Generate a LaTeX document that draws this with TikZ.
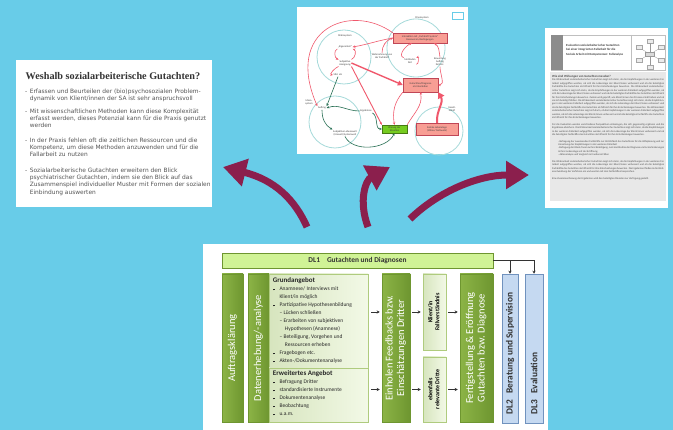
\documentclass[tikz,border=0pt]{standalone}
\usepackage{fontspec}
\setmainfont{Carlito}
\newfontfamily\titlefont{Liberation Serif}
\newfontfamily\bodyfont{DejaVu Sans}
\usetikzlibrary{arrows.meta,calc}

\definecolor{skyblue}{RGB}{104,204,232}
\definecolor{bendred}{RGB}{139,31,77}
\definecolor{colgreen}{RGB}{140,180,70}
\definecolor{colgreendark}{RGB}{110,150,48}
\definecolor{palegreen}{RGB}{234,245,214}
\definecolor{barlime}{RGB}{208,243,150}
\definecolor{dlblue}{RGB}{197,217,241}
\definecolor{dlbluedark}{RGB}{112,146,190}
\definecolor{ringteal}{RGB}{165,218,218}
\definecolor{flowred}{RGB}{240,88,108}
\definecolor{boxsalmon}{RGB}{248,158,148}
\definecolor{flowgreen}{RGB}{38,110,82}
\definecolor{limegreen}{RGB}{118,204,32}
\definecolor{textgray}{RGB}{85,85,85}

\newcommand{\sq}{\rule[0.5pt]{1.6pt}{1.6pt}\hspace{5pt}}
\newcommand{\evaltxt}{Die Wirksamkeit sozialarbeiterischer Gutachten zeigt sich darin, ob die Empfehlungen in der weiteren Fallarbeit aufgegriffen werden, ob sich die Lebenslage der Klient/innen verbessert und ob die beteiligten Fachkräfte das Gutachten als hilfreich für ihre Entscheidungen bewerten. }

\tikzset{
  bullettxt/.style={anchor=north west, inner sep=0pt, align=left, text=textgray,
    font=\bodyfont\fontsize{5.9}{7.3}\selectfont},
  sysring/.style={circle, draw=ringteal, line width=0.8pt, inner sep=0pt},
  tinylab/.style={inner sep=0.6pt, align=center, text=black!75, font=\fontsize{2.6}{3.1}\selectfont},
  redbox/.style={tinylab, fill=boxsalmon, draw=flowred!80!black, line width=0.4pt},
  greenbox/.style={tinylab, fill=limegreen, draw=limegreen!60!black, line width=0.4pt},
  redflow/.style={draw=flowred, line width=0.6pt, -{Stealth[length=2.6pt,width=2.4pt]}},
  greenflow/.style={draw=flowgreen, line width=0.6pt, -{Stealth[length=2.6pt,width=2.4pt]}},
  bendarrow/.style={draw=bendred, line width=7pt, -{Triangle[width=27pt,length=23pt]}},
  stepcol/.style={draw=colgreendark, line width=0.5pt, left color=colgreen, right color=colgreendark,
    inner sep=0pt, text=white, font=\fontsize{10.5}{11.5}\selectfont},
  lightbox/.style={draw=colgreen!70!white, line width=0.5pt, left color=colgreen!35!white,
    right color=palegreen!60!white, inner sep=0pt},
  dlbar/.style={draw=colgreendark, line width=0.5pt, fill=barlime, inner sep=0pt,
    font=\bfseries\fontsize{7.4}{8}\selectfont, text=black!80},
  dlcol/.style={draw=dlbluedark, line width=0.5pt, fill=dlblue, inner sep=0pt},
  flow/.style={draw=black!80, line width=0.7pt, -{Stealth[length=3pt,width=3pt]}},
}

\begin{document}
\begin{tikzpicture}[x=1pt,y=-1pt]
  \useasboundingbox (0,0) rectangle (673,430);
  \fill[skyblue] (0,0) rectangle (673,430);

% slide left: Weshalb sozialarbeiterische Gutachten?
  \fill[white] (16,60) rectangle (212,207);
  \node[font=\titlefont\bfseries\fontsize{10.2}{11}\selectfont, text=black!80] (titel) at (113,76)
    {Weshalb sozialarbeiterische Gutachten?};
  \node[bullettxt] (pkt1) at (25,88) {\begin{tabular}{@{}l@{\hspace{2.5pt}}l@{}}
    -& Erfassen und Beurteilen der (bio)psychosozialen Problem-\\
     & dynamik von Klient/innen der SA ist sehr anspruchsvoll\end{tabular}};
  \node[bullettxt] (pkt2) at (25,108) {\begin{tabular}{@{}l@{\hspace{2.5pt}}l@{}}
    -& Mit wissenschaftlichen Methoden kann diese Komplexität\\
     & erfasst werden, dieses Potenzial kann für die Praxis genutzt\\
     & werden\end{tabular}};
  \node[bullettxt] (pkt3) at (25,137) {\begin{tabular}{@{}l@{\hspace{2.5pt}}l@{}}
    -& In der Praxis fehlen oft die zeitlichen Ressourcen und die\\
     & Kompetenz, um diese Methoden anzuwenden und für die\\
     & Fallarbeit zu nutzen\end{tabular}};
  \node[bullettxt] (pkt4) at (25,167) {\begin{tabular}{@{}l@{\hspace{2.5pt}}l@{}}
    -& Sozialarbeiterische Gutachten erweitern den Blick\\
     & psychiatrischer Gutachten, indem sie den Blick auf das\\
     & Zusammenspiel individueller Muster mit Formen der sozialen\\
     & Einbindung auswerten\end{tabular}};

% slide top: Systemmodell
  \fill[white] (297,7) rectangle (468,154);
  \draw[skyblue, line width=0.8pt] (452,12) rectangle (463,19);
  \node[sysring, minimum size=54pt] (mikro) at (344,57) {};
  \node[sysring, minimum size=58pt] (praxis) at (416,48) {};
  \node[sysring, minimum size=52pt] (meso) at (335,122) {};
  \node[sysring, minimum size=48pt] (gesell) at (439,131) {};

  % labels
  \node[tinylab] (mikrolab) at (345,36) {Mikrosystem};
  \node[tinylab] (praxislab) at (422,18) {Praxissystem};
  \node[tinylab] (mesolab) at (309,102) {Meso-\\system};
  \node[tinylab] (gesellab) at (452,109) {Gesell-\\schaft};
  \node[tinylab] (eigen) at (345,47) {„Eigenanteil“};
  \node[tinylab] (aneig) at (345,63) {Subjektive\\Aneignung};
  \node[tinylab] (stbl) at (338,75) {Stbl. etc};
  \node[tinylab] (wahrn) at (382,56) {Wahrnehmung von\\der Fachkraft};
  \node[tinylab] (method) at (410,61) {Methoden\\Zeit};
  \node[tinylab] (bewert) at (440,62) {Bewertung\\Auftrag\\Zeit etc.};
  \node[tinylab] (auftr) at (322,108) {Auftrag};
  \node[tinylab] (ergeb) at (366,111) {Ergebnisse};
  \node[tinylab] (lebensw) at (345,133) {Subjektive Lebenswelt\\(Umwelt) Systemwelt};

  % boxes
  \node[redbox, minimum width=54pt, minimum height=10pt] (pbox) at (420,38)
    {Interaktion mit „Fachkraft System“\\Ressourcen, Bedingungen};
  \node[redbox, minimum width=35pt, minimum height=14pt] (gbox) at (420.5,85)
    {Gutachten/Diagnose\\als Interaktion};
  \node[redbox, minimum width=42pt, minimum height=12pt] (lage) at (437,129)
    {Soziale Lebenslage\\(Milieu/ Netzwerk)};
  \node[greenbox, minimum width=25pt, minimum height=8pt] (klaer) at (394.5,129)
    {Klärung der\\Situation};

  % red flows
  \draw[redflow] (pbox.north west) .. controls (350,2) and (284,30) .. (auftr.north west);
  \draw[redflow] (pbox.west) to[out=190,in=10] (eigen.east);
  \draw[redflow] (eigen.south west) to[out=200,in=160] (aneig.north west);
  \draw[redflow] (aneig.north east) to[out=20,in=-20] (eigen.south east);
  \draw[redflow] (aneig.south west) to[out=200,in=170] (stbl.west);
  \draw[redflow] (method.north west) to[out=160,in=200] ($(pbox.south)+(-8,0)$);
  \draw[redflow] (method.south east) to[out=-20,in=20] (method.north east);
  \draw[redflow] (bewert.north) to[out=100,in=-30] ($(pbox.south)+(14,0)$);
  \draw[redflow] (bewert.south) to[out=-90,in=0] (gbox.east);
  \draw[redflow] (wahrn.north) to[out=90,in=200] (pbox.west);
  \draw[redflow, line width=1.4pt, -{Triangle[length=5pt,width=5pt]}] (aneig.east) -- (gbox.west);
  \draw[redflow, line width=0.9pt] (aneig.south east) -- (klaer.north west);
  \draw[redflow] (gbox.south west) to[out=230,in=100] (klaer.north);
  \draw[redflow] (klaer.north east) to[out=60,in=280] (gbox.south);
  \draw[redflow, line width=2pt, -{Triangle[length=6pt,width=7pt]}] (lage.north) to[out=95,in=-60] (gbox.south east);

  % green flows
  \draw[greenflow] (stbl.south) -- (auftr.north east);
  \draw[greenflow] (ergeb.west) to[out=180,in=20] (auftr.east);
  \draw[greenflow] (auftr.south) to[out=-90,in=150] (lebensw.north west);
  \draw[greenflow] (lebensw.south) .. controls (352,152) and (386,150) .. (klaer.south);
  \draw[greenflow] (ergeb.south east) to[out=-30,in=180] (klaer.west);

% slide right: Evaluation
  \fill[white] (545,28) rectangle (668,208);
  \draw[black!25, line width=0.3pt] (551,35) rectangle (665,70);
  \fill[black!45] (551,35) rectangle (563,70);
  \node[anchor=north west, inner sep=0pt, align=left, text=black!75,
    font=\bfseries\fontsize{3.1}{4.6}\selectfont] (evaltitel) at (566,44)
    {Evaluation sozialarbeiterischer Gutachten\\bei einer integrierten Fallarbeit für die\\Soziale Arbeit mit Kompetenzen: Fallanalyse};
  \draw[black!25, line width=0.3pt] (631,35) -- (631,70);
  \node[draw=black!40, fill=black!15, minimum width=9pt, minimum height=4pt, inner sep=0pt] (mini) at (650,54) {};
  \foreach \a [count=\i] in {90,150,210,270,330,30} {
    \node[draw=black!35, fill=black!8, minimum width=6pt, minimum height=4pt, inner sep=0pt]
      (mini\i) at ($(mini)+(\a:13)$) {};
    \draw[black!40, line width=0.3pt] (mini) -- (mini\i);
  }
  \fill[black!9] (550,72) rectangle (666,201);
  \node[anchor=north west, inner sep=0pt, text width=112pt, align=justify, text=black!70,
    font=\fontsize{2.6}{3.45}\selectfont] (evaltext) at (552,75) {%
    {\bfseries\fontsize{3.1}{4}\selectfont Wie sind Wirkungen von Gutachten messbar?\par}
    \evaltxt\evaltxt Zudem wird geprüft, wie Klient/innen den Prozess erlebt haben und ob sie sich beteiligt fühlten. \evaltxt\evaltxt\par\smallskip
    Für die Evaluation werden verschiedene Perspektiven einbezogen, die sich gegenseitig ergänzen und die Ergebnisse absichern. \evaltxt\par\smallskip
    \leftskip=6pt
    - Befragung der zuweisenden Fachkräfte zur Nützlichkeit des Gutachtens für die Hilfeplanung und zur Umsetzung der Empfehlungen in der weiteren Fallarbeit\par
    - Befragung der Klient/innen zu ihrer Beteiligung, zum Verständnis der Diagnose und zu Veränderungen in ihrer Lebenslage seit der Eröffnung\par
    - Aktenanalyse und Vergleich mit anderen Fällen\par\smallskip
    \leftskip=0pt
    \evaltxt Die Ergebnisse fließen in die Weiterentwicklung der Verfahren ein und werden mit den Fachkräften besprochen.\par\smallskip
    Eine Zusammenfassung der Ergebnisse wird den beteiligten Diensten zur Verfügung gestellt.\par};

% slide bottom: Ablauf Gutachten
  \fill[white] (203,244) rectangle (548,430);
  \node[dlbar, minimum width=271pt, minimum height=15pt] (dlone) at (357.5,260.5)
    {DL1\hspace{7pt}Gutachten und Diagnosen};
  \node[stepcol, minimum width=21pt, minimum height=148pt] (auftrag) at (232.5,348)
    {\rotatebox{90}{Auftragsklärung}};
  \node[stepcol, minimum width=21pt, minimum height=148pt] (daten) at (258.5,348)
    {\rotatebox{90}{Datenerhebung/-analyse}};
  \node[lightbox, minimum width=99pt, minimum height=94pt] (grund) at (318.5,321) {};
  \node[lightbox, minimum width=99pt, minimum height=54pt] (erweit) at (318.5,395) {};
  \node[stepcol, minimum width=28pt, minimum height=148pt] (einholen) at (396,348)
    {\rotatebox{90}{\begin{tabular}{@{}c@{}}Einholen Feedbacks bzw.\\Einschätzungen Dritter\end{tabular}}};
  \node[lightbox, minimum width=23pt, minimum height=76pt, font=\bfseries\fontsize{6}{7}\selectfont] (klient) at (434.5,312)
    {\rotatebox{90}{\begin{tabular}{@{}c@{}}Klient/in\\Fallverständnis\end{tabular}}};
  \node[lightbox, minimum width=23pt, minimum height=65pt, font=\bfseries\fontsize{6}{7}\selectfont] (dritte) at (434.5,389.5)
    {\rotatebox{90}{\begin{tabular}{@{}c@{}}ebenfalls\\relevante Dritte\end{tabular}}};
  \node[stepcol, minimum width=33pt, minimum height=148pt] (fertig) at (476.5,348)
    {\rotatebox{90}{\begin{tabular}{@{}c@{}}Fertigstellung \& Eröffnung\\Gutachten bzw. Diagnose\end{tabular}}};
  \node[dlcol, minimum width=16pt, minimum height=149pt] (dltwo) at (510,348.5) {};
  \node[dlcol, minimum width=18pt, minimum height=149pt] (dlthree) at (534,348.5) {};
  \node[rotate=90, anchor=west, inner sep=0pt, font=\bfseries\fontsize{9.4}{10}\selectfont, text=black!80]
    (dltwotxt) at ($(dltwo.south)+(0,-9)$) {DL2\hspace{6pt}Beratung und Supervision};
  \node[rotate=90, anchor=west, inner sep=0pt, font=\bfseries\fontsize{9.4}{10}\selectfont, text=black!80]
    (dlthreetxt) at ($(dlthree.south)+(0,-9)$) {DL3\hspace{6pt}Evaluation};

  % Angebote
  \node[anchor=north west, inner sep=0pt, align=left, text=black!85,
    font=\fontsize{5.5}{8}\selectfont] (grundtxt) at ($(grund.north west)+(4,4)$) {%
    {\bfseries\fontsize{7}{8}\selectfont Grundangebot}\\
    \sq Anamnese/ Interviews mit\\
    \hspace*{6.6pt}Klient/in möglich\\
    \sq Partizipative Hypothesenbildung\\
    \hspace*{6.6pt}-- Lücken schließen\\
    \hspace*{6.6pt}-- Erarbeiten von subjektiven\\
    \hspace*{12pt}Hypothesen (Anamnese)\\
    \hspace*{6.6pt}-- Beteiligung, Vorgehen und\\
    \hspace*{12pt}Ressourcen erheben\\
    \sq Fragebogen etc.\\
    \sq Akten-/Dokumentenanalyse};
  \node[anchor=north west, inner sep=0pt, align=left, text=black!85,
    font=\fontsize{5.5}{8}\selectfont] (erweittxt) at ($(erweit.north west)+(4,3)$) {%
    {\bfseries\fontsize{7}{8}\selectfont Erweitertes Angebot}\\
    \sq Befragung Dritter\\
    \sq standardisierte Instrumente\\
    \sq Dokumentenanalyse\\
    \sq Beobachtung\\
    \sq u.a.m.};

  % Ablauf
  \draw[flow, shorten <=3pt, shorten >=2pt] (grund.east |- klient) -- (einholen.west |- klient);
  \draw[flow, shorten <=3pt, shorten >=2pt] (erweit.east |- dritte) -- (einholen.west |- dritte);
  \draw[flow, shorten <=2pt, shorten >=2pt] (einholen.east |- klient) -- (klient.west);
  \draw[flow, shorten <=2pt, shorten >=2pt] (einholen.east |- dritte) -- (dritte.west);
  \draw[flow, shorten <=2pt, shorten >=2pt] (klient.east) -- (fertig.west |- klient);
  \draw[flow, shorten <=2pt, shorten >=2pt] (dritte.east) -- (fertig.west |- dritte);
  \draw[flow] (dlone.east) -| (dltwo.north);
  \draw[flow] (dlone.east) -| (dlthree.north);

% big arrows
  \coordinate (links0) at (307,227);
  \coordinate (links1) at (223,167);
  \coordinate (mitte0) at (368,227);
  \coordinate (mitte1) at (390,167);
  \coordinate (rechts0) at (410,219);
  \coordinate (rechts1) at (529,175);
  \draw[bendarrow] (links0) .. controls (295,200) and (275,180) .. (links1);
  \draw[bendarrow] (mitte0) .. controls (358,200) and (366,180) .. (mitte1);
  \draw[bendarrow] (rechts0) .. controls (440,190) and (480,175) .. (rechts1);

\end{tikzpicture}
\end{document}
